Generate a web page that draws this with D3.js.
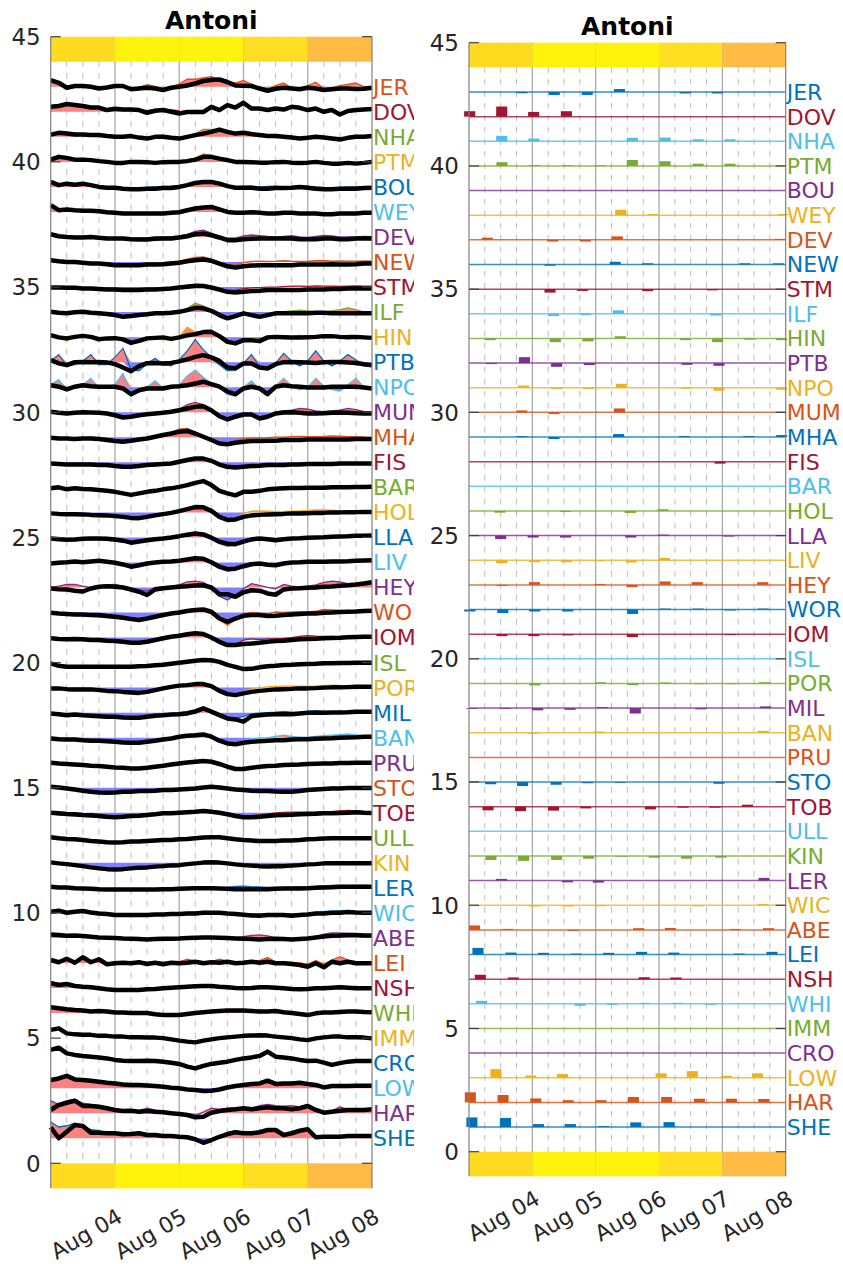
<!DOCTYPE html>
<html><head><meta charset="utf-8">
<script src="https://cdn.jsdelivr.net/npm/d3@7"></script>
<style>body{margin:0;background:#fff;} svg{font-family:"DejaVu Sans",sans-serif;display:block;}</style>
</head><body><svg id="c" width="843" height="1264"></svg>
<script>
// ---------------- DATA ----------------
const stations = ["JER","DOV","NHA","PTM","BOU","WEY","DEV","NEW","STM","ILF","HIN","PTB","NPO","MUM","MHA","FIS","BAR","HOL","LLA","LIV","HEY","WOR","IOM","ISL","POR","MIL","BAN","PRU","STO","TOB","ULL","KIN","LER","WIC","ABE","LEI","NSH","WHI","IMM","CRO","LOW","HAR","SHE"];
const stationLevels = [43,42,41,40,39,38,37,36,35,34,33,32,31,30,29,28,27,26,25,24,23,22,21,20,19,18,17,16,15,14,13,12,11,10,9,8,7,6,5,4,3,2,1];
const sampleHours = d3.range(0, 121, 3); // 3-hourly sampling, Aug 03 00:00 .. Aug 08 00:00
const dayTickLabels = ["Aug 04","Aug 05","Aug 06","Aug 07","Aug 08"];
const yTickValues = [0,5,10,15,20,25,30,35,40,45];
const eventName = "Antoni";
const dayBandColors = ["#FFDA1E","#FFF30B","#FFF30B","#FFDE23","#FFBB44"];

// model (black) surge residual per station, offset from station level
const modelLines = [
/*JER*/[0.27,0.16,-0.04,0.03,0.03,0,-0.07,-0.03,0.03,0.03,-0.1,-0.07,-0.04,-0.07,-0.13,-0.04,0,0.05,0.13,0.23,0.27,0.29,0.19,0.05,0.04,0.03,-0.07,-0.16,-0.08,-0.04,-0.07,-0.1,-0.04,-0.07,-0.13,-0.1,-0.07,-0.07,-0.09,-0.08,-0.04],
/*DOV*/[0.2,0.23,0.31,0.27,0.23,0.17,0.17,0.07,0.12,0.09,0.09,0.07,-0.04,0.04,0.07,0,-0.07,-0.01,-0.01,-0.01,0.2,0.07,0.27,0.17,0.36,0.13,0.13,0.07,0.13,0.09,0.2,0.16,0.07,0.13,0,0.07,-0.11,0.03,0.07,0.09,0.11],
/*NHA*/[0.09,0.16,0.13,0.09,0.09,0.07,0.07,0.03,0,0,0.03,-0.03,-0.07,0,0,-0.04,-0.07,0,0.07,0.13,0.2,0.29,0.2,0.13,0.16,0.11,0.07,0.03,0.03,0,-0.03,-0.07,-0.04,0,-0.03,-0.07,-0.11,-0.04,0,0,0.03],
/*PTM*/[0.09,0.2,0.16,0.09,0.09,0.07,0.03,0,-0.04,-0.04,0,0,-0.01,-0.04,-0.01,0,0,0.03,0.09,0.2,0.2,0.13,0.07,0,0,-0.01,-0.03,-0.03,-0.01,0,-0.03,-0.04,-0.03,0,-0.04,-0.07,-0.07,-0.04,-0.07,-0.04,0],
/*BOU*/[0.2,0.07,0.13,0.09,0.13,0.07,0,-0.03,-0.03,-0.07,-0.09,-0.09,-0.07,-0.07,-0.04,-0.04,0,0.07,0.16,0.2,0.2,0.13,0.03,-0.03,-0.03,-0.03,-0.07,-0.07,-0.04,-0.04,-0.03,0,-0.03,-0.07,-0.09,-0.09,-0.07,-0.07,-0.07,-0.04,-0.03],
/*WEY*/[0.27,0.07,0.1,0.07,0.05,0.05,0.03,-0.01,-0.03,-0.06,-0.06,-0.06,-0.06,-0.06,-0.06,-0.03,-0.01,0.07,0.14,0.18,0.2,0.1,0,-0.03,-0.03,-0.01,-0.03,-0.06,-0.06,-0.03,-0.03,-0.06,-0.06,-0.06,-0.09,-0.09,-0.06,-0.06,-0.06,-0.03,-0.03],
/*DEV*/[0.11,0.03,0,-0.02,-0.02,0,-0.03,-0.06,-0.06,-0.06,-0.09,-0.1,-0.1,-0.07,-0.06,-0.06,-0.02,0.03,0.11,0.14,0.07,-0.02,-0.13,-0.13,-0.09,-0.07,-0.06,-0.06,-0.06,-0.06,-0.06,-0.09,-0.09,-0.09,-0.06,-0.06,-0.09,-0.09,-0.06,-0.06,-0.06],
/*NEW*/[0.07,0.03,0,0,-0.03,-0.06,-0.06,-0.09,-0.13,-0.13,-0.13,-0.13,-0.1,-0.1,-0.09,-0.06,-0.03,0.03,0.07,0.1,0.05,-0.06,-0.17,-0.22,-0.17,-0.14,-0.13,-0.13,-0.13,-0.13,-0.13,-0.1,-0.1,-0.1,-0.1,-0.09,-0.1,-0.1,-0.09,-0.06,-0.06],
/*STM*/[-0.02,-0.02,-0.03,-0.03,-0.06,-0.06,-0.08,-0.1,-0.1,-0.12,-0.12,-0.12,-0.1,-0.1,-0.08,-0.06,-0.02,0.01,0.04,0.04,-0.02,-0.1,-0.19,-0.22,-0.19,-0.16,-0.15,-0.12,-0.12,-0.12,-0.12,-0.12,-0.1,-0.1,-0.1,-0.08,-0.08,-0.06,-0.06,-0.06,-0.06],
/*ILF*/[0.01,-0.03,-0.05,-0.01,0.01,-0.03,-0.05,-0.08,-0.12,-0.19,-0.16,-0.12,-0.09,-0.05,-0.05,-0.03,0.01,0.08,0.17,0.15,0.05,-0.12,-0.25,-0.16,-0.05,-0.12,-0.19,-0.12,-0.05,-0.05,-0.05,-0.05,-0.05,-0.03,-0.03,-0.05,-0.05,-0.05,-0.05,-0.05,-0.05],
/*HIN*/[0.08,-0.01,-0.05,0.01,0.05,0.01,-0.08,-0.05,-0.04,-0.09,-0.23,-0.15,-0.05,-0.03,-0.01,-0.07,-0.01,0.07,0.12,0.2,0.21,0.04,-0.19,-0.25,-0.12,-0.12,-0.16,-0.01,0.01,0,-0.01,-0.01,0,0.01,0.04,0.04,0.01,0,0.01,-0.01,-0.03],
/*PTB*/[0.08,-0.05,-0.12,0,0.01,0,0.01,-0.01,-0.08,-0.21,-0.36,-0.16,-0.04,-0.03,-0.05,-0.03,0.03,0.11,0.21,0.28,0.19,0.05,-0.21,-0.25,-0.05,-0.05,-0.21,-0.25,-0.08,0,0.01,0,-0.01,-0.03,0,0.01,0.01,-0.01,-0.03,-0.08,-0.12],
/*NPO*/[0.08,0.02,-0.09,0.02,0.08,0.04,0.02,0.02,0.02,-0.05,-0.28,-0.12,-0.05,-0.05,-0.05,0.02,0.04,0.08,0.15,0.22,0.12,0.02,-0.18,-0.28,-0.05,0.02,-0.05,-0.28,0.02,0.08,0.04,0.02,-0.01,-0.01,-0.01,0.02,0.02,0.02,0.02,-0.01,-0.05],
/*MUM*/[0.02,-0.02,-0.05,-0.02,0,-0.01,-0.02,-0.05,-0.12,-0.21,-0.18,-0.12,-0.08,-0.05,-0.02,0.02,0.08,0.15,0.22,0.24,0.08,-0.16,-0.29,-0.18,-0.09,-0.09,-0.25,-0.18,-0.05,-0.01,0,-0.02,-0.05,-0.05,-0.04,-0.02,-0.01,-0.02,-0.04,-0.05,-0.05],
/*MHA*/[-0.02,-0.05,-0.05,-0.07,-0.05,-0.05,-0.07,-0.11,-0.15,-0.18,-0.14,-0.09,-0.05,0.02,0.09,0.15,0.22,0.25,0.15,0.02,-0.11,-0.25,-0.28,-0.22,-0.18,-0.15,-0.15,-0.14,-0.14,-0.11,-0.11,-0.11,-0.09,-0.09,-0.09,-0.09,-0.09,-0.09,-0.07,-0.07,-0.07],
/*FIS*/[-0.05,-0.07,-0.09,-0.09,-0.09,-0.09,-0.11,-0.11,-0.15,-0.18,-0.18,-0.15,-0.11,-0.09,-0.07,-0.05,0.02,0.09,0.15,0.15,0.06,-0.09,-0.18,-0.21,-0.18,-0.15,-0.14,-0.11,-0.11,-0.11,-0.09,-0.09,-0.07,-0.07,-0.07,-0.07,-0.05,-0.05,-0.05,-0.05,-0.05],
/*BAR*/[-0.04,0,-0.08,-0.04,-0.07,-0.08,-0.11,-0.14,-0.18,-0.24,-0.3,-0.24,-0.18,-0.14,-0.08,-0.04,0.02,0.09,0.18,0.25,0.09,-0.14,-0.24,-0.32,-0.18,-0.18,-0.14,-0.08,-0.06,-0.04,-0.03,-0.03,-0.02,-0.02,-0.02,0,0,0,0.01,0.01,0.02],
/*HOL*/[-0.04,-0.06,-0.07,-0.07,-0.08,-0.1,-0.11,-0.12,-0.15,-0.18,-0.22,-0.23,-0.18,-0.12,-0.07,-0.02,0.05,0.13,0.21,0.2,0.06,-0.18,-0.3,-0.28,-0.18,-0.12,-0.1,-0.08,-0.07,-0.06,-0.04,-0.04,-0.03,-0.02,-0.02,0,0,0.01,0.01,0.02,0.02],
/*LLA*/[-0.04,-0.07,-0.09,-0.08,-0.05,-0.04,-0.04,-0.05,-0.08,-0.13,-0.21,-0.16,-0.11,-0.07,-0.04,0,0.05,0.11,0.16,0.12,-0.01,-0.17,-0.25,-0.27,-0.17,-0.08,-0.04,-0.07,-0.11,-0.07,-0.04,-0.03,-0.01,0,0.01,0.03,0.04,0.05,0.07,0.07,0.08],
/*LIV*/[-0.04,-0.01,0.01,0.04,0.01,0.04,0.07,0.03,-0.01,-0.08,-0.17,-0.11,-0.04,0,0.03,0.04,0.07,0.12,0.17,0.15,0.01,-0.17,-0.27,-0.25,-0.15,-0.07,-0.04,-0.09,-0.11,-0.04,0,0.01,0.03,0.03,0.03,0.04,0.04,0.05,0.07,0.08,0.09],
/*HEY*/[-0.04,-0.07,-0.08,-0.13,-0.16,-0.04,0.03,0.05,0.03,0,-0.08,-0.17,-0.3,-0.08,-0.03,0,0.03,0.05,0.08,0.09,0,-0.27,-0.27,-0.37,-0.19,-0.11,-0.13,-0.24,-0.29,-0.08,-0.04,-0.03,-0.01,0,0.03,0.04,0.07,0.09,0.12,0.16,0.21],
/*WOR*/[-0.01,-0.04,-0.06,-0.08,-0.08,-0.1,-0.1,-0.14,-0.17,-0.21,-0.26,-0.3,-0.24,-0.17,-0.1,-0.04,0,0.06,0.1,0.12,0.03,-0.24,-0.37,-0.24,-0.13,-0.1,-0.1,-0.14,-0.13,-0.1,-0.08,-0.06,-0.04,-0.04,-0.01,0,0.02,0.03,0.04,0.06,0.07],
/*IOM*/[-0.03,-0.06,-0.07,-0.06,-0.07,-0.1,-0.1,-0.13,-0.14,-0.17,-0.21,-0.21,-0.17,-0.1,-0.03,0.03,0.07,0.13,0.17,0.14,0,-0.17,-0.3,-0.3,-0.26,-0.24,-0.21,-0.17,-0.14,-0.13,-0.1,-0.07,-0.06,-0.05,-0.03,-0.02,-0.01,0.01,0.02,0.03,0.03],
/*ISL*/[-0.03,-0.13,-0.17,-0.17,-0.17,-0.17,-0.17,-0.17,-0.17,-0.17,-0.17,-0.15,-0.14,-0.11,-0.09,-0.05,-0.01,0.03,0.07,0.1,0.09,0.03,-0.09,-0.17,-0.26,-0.25,-0.19,-0.15,-0.13,-0.1,-0.09,-0.07,-0.06,-0.05,-0.03,-0.03,-0.02,-0.02,-0.01,-0.01,-0.01],
/*POR*/[-0.03,-0.03,-0.06,-0.07,-0.07,-0.07,-0.1,-0.13,-0.14,-0.17,-0.19,-0.21,-0.17,-0.1,-0.03,0.03,0.08,0.1,0.14,0.14,0.06,-0.13,-0.26,-0.3,-0.23,-0.17,-0.13,-0.1,-0.07,-0.06,-0.05,-0.03,-0.03,-0.02,0,0.01,0.01,0.02,0.03,0.03,0.03],
/*MIL*/[-0.03,-0.06,-0.1,-0.07,-0.1,-0.12,-0.14,-0.16,-0.16,-0.19,-0.2,-0.2,-0.16,-0.12,-0.1,-0.07,-0.06,-0.03,0.04,0.17,0.04,-0.1,-0.23,-0.27,-0.36,-0.14,-0.1,-0.07,-0.06,-0.06,-0.06,-0.03,0,0,0,0.01,0.01,0.02,0.04,0.04,0.04],
/*BAN*/[-0.03,-0.06,-0.07,-0.07,-0.1,-0.12,-0.12,-0.14,-0.16,-0.19,-0.2,-0.2,-0.16,-0.12,-0.07,-0.03,0.04,0.08,0.1,0.13,0.04,-0.12,-0.23,-0.26,-0.2,-0.16,-0.14,-0.12,-0.1,-0.1,-0.07,-0.06,-0.06,-0.04,-0.03,-0.02,0,0.01,0.02,0.04,0.04],
/*PRU*/[0,-0.03,-0.05,-0.07,-0.09,-0.12,-0.13,-0.16,-0.19,-0.2,-0.23,-0.23,-0.2,-0.16,-0.12,-0.07,-0.03,0.01,0.04,0.07,0.04,-0.05,-0.16,-0.25,-0.25,-0.2,-0.16,-0.13,-0.12,-0.09,-0.08,-0.07,-0.05,-0.04,-0.03,-0.03,-0.01,-0.01,0,0,0],
/*STO*/[0.04,0.01,-0.03,-0.07,-0.12,-0.16,-0.19,-0.2,-0.19,-0.16,-0.16,-0.13,-0.13,-0.12,-0.09,-0.09,-0.07,-0.05,-0.03,0.01,0.04,0.01,-0.03,-0.07,-0.09,-0.12,-0.13,-0.13,-0.15,-0.16,-0.16,-0.13,-0.09,-0.07,-0.05,-0.03,-0.03,-0.01,-0.01,-0.01,-0.01],
/*TOB*/[0,-0.02,-0.05,-0.06,-0.09,-0.1,-0.13,-0.16,-0.18,-0.16,-0.13,-0.12,-0.09,-0.06,-0.02,-0.02,0,0.02,0.04,0.07,0.04,0,-0.06,-0.13,-0.18,-0.18,-0.16,-0.13,-0.1,-0.09,-0.08,-0.06,-0.05,-0.04,-0.02,-0.02,-0.01,0,0.02,0,-0.01],
/*ULL*/[0.02,-0.02,-0.05,-0.06,-0.09,-0.13,-0.15,-0.18,-0.19,-0.18,-0.15,-0.15,-0.13,-0.11,-0.09,-0.09,-0.06,-0.05,-0.02,0.01,0.02,0.02,-0.02,-0.06,-0.09,-0.11,-0.13,-0.13,-0.13,-0.11,-0.11,-0.09,-0.06,-0.05,-0.03,-0.02,-0.02,-0.02,-0.02,-0.02,-0.02],
/*KIN*/[0.02,-0.02,-0.05,-0.09,-0.13,-0.18,-0.22,-0.25,-0.26,-0.25,-0.22,-0.19,-0.18,-0.15,-0.13,-0.1,-0.09,-0.05,-0.02,0.01,0.02,0.01,-0.02,-0.06,-0.09,-0.11,-0.13,-0.14,-0.13,-0.13,-0.11,-0.09,-0.06,-0.05,-0.02,-0.02,-0.02,-0.02,-0.02,-0.02,-0.02],
/*LER*/[0.05,0.02,0.02,-0.01,-0.02,-0.03,-0.05,-0.06,-0.06,-0.06,-0.06,-0.06,-0.06,-0.06,-0.05,-0.05,-0.03,-0.02,-0.01,-0.01,-0.01,-0.02,-0.03,-0.05,-0.05,-0.05,-0.05,-0.05,-0.03,-0.02,-0.02,-0.02,-0.01,0.01,0.02,0.03,0.05,0.05,0.05,0.05,0.05],
/*WIC*/[0.05,0.09,0.01,0.05,0.08,0.02,-0.02,-0.04,-0.08,-0.08,-0.08,-0.08,-0.08,-0.06,-0.06,-0.04,-0.04,-0.02,-0.02,0.01,0.01,0.01,-0.02,-0.04,-0.07,-0.1,-0.11,-0.08,-0.08,-0.08,-0.11,-0.08,-0.06,-0.02,-0.02,0.01,0.01,0.04,0.02,0.01,0.01],
/*ABE*/[0.14,0.12,0.09,0.1,0.08,0.05,0.02,0.01,0,-0.02,-0.03,-0.04,-0.06,-0.04,-0.03,-0.03,-0.02,0,0.01,0.02,0.02,0.01,0,-0.02,-0.03,-0.04,-0.06,-0.04,-0.03,-0.04,-0.06,-0.04,-0.02,0.02,0.06,0.09,0.1,0.12,0.12,0.1,0.1],
/*LEI*/[0.12,0.03,0.17,0.01,0.23,0.03,0.15,-0.05,-0.01,0.01,-0.01,0.03,-0.04,0.01,-0.05,0.01,-0.01,0.01,0.05,-0.01,0.03,0.01,0.05,-0.01,0.01,0.05,0.01,0.05,-0.01,-0.01,-0.04,-0.08,-0.15,-0.01,-0.17,0.05,-0.01,0.05,-0.01,-0.01,-0.01],
/*NSH*/[0.19,0.12,0.16,0.08,0.05,0.03,-0.01,-0.05,-0.08,-0.08,-0.08,-0.08,-0.05,-0.04,-0.01,0.01,0.03,0.05,0.07,0.08,0.08,0.05,0.03,0,-0.01,0,0.03,0.03,0.01,-0.01,-0.04,-0.05,-0.04,-0.01,-0.01,0.01,0.03,0.01,-0.01,-0.01,-0.01],
/*WHI*/[0.23,0.19,0.15,0.12,0.1,0.06,0.08,0.06,0.02,0.02,0,0,0,-0.05,-0.08,-0.08,-0.08,-0.04,0,0.03,0.06,0.08,0.1,0.1,0.1,0.08,0.06,0.06,0.08,0.03,0,-0.04,-0.08,-0.01,0.02,0.02,0.04,0.06,0.06,0.04,0.03],
/*IMM*/[0.33,0.39,0.19,0.15,0.13,0.13,0.09,0.09,0.06,0.06,0.03,0.03,0.02,0.02,0,-0.05,-0.1,-0.14,-0.17,-0.1,-0.05,0,0.03,0.06,0.09,0.1,0.11,0.1,0.06,0.03,0,-0.05,-0.08,-0.01,0.03,0.06,0.06,0.03,0.03,0.02,-0.01],
/*CRO*/[0.53,0.62,0.39,0.33,0.29,0.26,0.23,0.19,0.13,0.1,0.09,0.09,0.1,0.09,0.06,0.02,-0.03,-0.14,-0.21,-0.11,-0.03,0.02,0.06,0.13,0.19,0.23,0.29,0.46,0.26,0.23,0.19,0.13,0.09,0.1,0.02,-0.07,0,0.06,0.09,0.09,0.09],
/*LOW*/[0.33,0.39,0.49,0.35,0.33,0.3,0.26,0.22,0.19,0.15,0.13,0.13,0.11,0.09,0.06,0.02,0,-0.05,-0.07,-0.11,-0.1,-0.05,0.03,0.09,0.13,0.17,0.19,0.3,0.17,0.19,0.19,0.22,0.17,0.13,0.03,0.09,0.09,0.09,0.1,0.1,0.1],
/*HAR*/[0.13,0.33,0.42,0.5,0.29,0.29,0.26,0.2,0.13,0.09,0.1,0.06,0.09,0.06,0.04,0,-0.03,-0.07,-0.16,-0.14,0.02,0.09,0.13,0.16,0.2,0.16,0.2,0.24,0.2,0.2,0.16,0.2,0.29,0.13,0.02,0.06,0.1,0.13,0.13,0.13,0.16],
/*SHE*/[0.44,0,0.26,0.53,0.49,0.22,0.22,0.2,0.2,0.16,0.17,0.2,0.13,0.13,0.09,0.09,0.06,0.04,-0.04,-0.18,-0.07,0.06,0.17,0.24,0.2,0.2,0.24,0.33,0.33,0.13,0.2,0.3,0.36,0.04,0.06,0.06,0.06,0.09,0.09,0.09,0.09]
];

// observed residual per station (null = no data)
const N = null;
const obsLines = [
/*JER*/[0.25,0.15,0,0.02,0.05,0.02,-0.05,0,0.08,0.05,-0.08,-0.02,0.08,0.02,-0.1,0,0.12,0.3,0.3,0.35,0.4,0.3,0.2,0.15,0.25,0.1,-0.05,-0.12,0.05,0.15,-0.05,-0.08,0.05,0.18,-0.1,-0.05,0.05,0.1,0.15,0,-0.03],
/*DOV*/[0.25,0.25,0.35,0.3,0.25,0.2,0.15,0.1,0.15,0.08,0.12,0.1,0.05,0.1,0.1,0.08,0.05,N,N,N,N,N,N,N,N,N,N,N,N,N,N,N,N,N,N,N,N,N,N,N,N],
/*NHA*/[0.12,0.18,0.15,0.1,0.1,0.09,0.08,0.05,0.02,0.02,0.04,0,-0.05,0.02,0.02,-0.02,-0.05,0.03,0.12,0.3,0.3,0.3,0.22,0.15,0.2,0.14,0.1,0.08,0.05,0.02,0,-0.05,-0.02,0.02,0,-0.05,-0.08,-0.02,0.02,0.02,0.04],
/*PTM*/[0.1,0.18,0.15,0.1,0.1,0.08,0.05,0.03,0,0.02,0.03,0.02,0.02,0,0.03,0.03,0.05,0.08,0.15,0.33,0.25,0.15,0.08,0.03,0.04,0.02,0,0,0.02,0.03,0,-0.02,0,0.02,-0.02,-0.04,-0.04,-0.02,-0.03,-0.02,0.02],
/*BOU*/[0.18,0.08,0.12,0.1,0.12,0.08,0.02,0,0,-0.03,-0.05,-0.05,-0.02,0,0.02,0.03,0.06,0.1,0.18,0.22,0.2,0.15,0.05,0,0.02,0.03,0,0.02,0.03,0,0,0.04,0.02,0,-0.02,-0.03,-0.02,0,0,0,0],
/*WEY*/[0.25,0.08,0.1,0.08,0.06,0.06,0.05,0.02,0,-0.03,-0.04,-0.04,-0.03,-0.02,-0.02,0,0.02,0.08,0.16,0.22,0.22,0.12,0.02,0,0,0.02,0,-0.03,-0.03,0,0,-0.03,-0.03,-0.04,-0.06,-0.06,-0.04,-0.04,-0.04,-0.02,-0.02],
/*DEV*/[0.14,0.06,0.03,0.02,0.02,0.03,0,-0.03,-0.03,-0.03,-0.05,-0.06,-0.04,0,0,0,0.04,0.1,0.22,0.27,0.15,0.02,-0.08,-0.06,0.04,0.08,0.05,0.02,0,0.02,0.05,0,-0.02,0.02,0.06,0.04,0,0,0,0.02,0.01],
/*NEW*/[0.08,0.05,0.02,0.02,0,-0.03,-0.04,-0.06,-0.08,-0.08,-0.08,-0.08,-0.06,-0.04,-0.03,0,0.03,0.12,0.18,0.2,0.12,0,-0.1,-0.12,-0.02,0.02,0.03,0.02,0.03,0.05,0.03,0.02,0.03,0.05,0.06,0.03,0.04,0.03,0.03,0.04,0.03],
/*STM*/[-0.02,-0.03,-0.04,-0.05,-0.07,-0.08,-0.1,-0.1,-0.1,-0.12,-0.1,-0.1,-0.08,-0.06,-0.05,-0.02,0.03,0.08,0.12,0.1,0.03,-0.08,-0.15,-0.12,-0.06,-0.03,-0.02,0,0,0.02,0.04,0.04,0.03,0.05,0.04,0.04,0.03,0.04,0.05,0.04,0.04],
/*ILF*/[0.02,-0.02,-0.04,0,0.02,-0.02,-0.05,-0.08,-0.1,-0.15,-0.12,-0.1,-0.07,-0.03,-0.03,0,0.04,0.15,0.35,0.25,0.08,-0.1,-0.2,-0.12,0,-0.08,-0.12,-0.05,0,0.02,0.05,0.08,0.05,0,0,0.05,0.1,0.17,0.1,0,-0.03],
/*HIN*/[0.1,-0.05,-0.15,0.05,0.08,-0.05,-0.18,-0.05,0.02,-0.15,-0.25,-0.1,0,-0.05,-0.1,-0.12,0.02,0.4,0.2,0.22,0.25,0.05,-0.2,-0.22,-0.05,-0.02,-0.12,0.03,0.05,-0.05,0.02,0.08,-0.03,0.03,0.1,0.05,-0.02,0.08,0.06,0,-0.02],
/*PTB*/[0.05,0.3,-0.15,-0.1,0.05,0.3,-0.1,-0.1,0.2,0.55,-0.3,-0.35,-0.05,0.15,-0.1,-0.15,0.1,0.45,0.9,0.5,0.2,-0.1,-0.35,-0.3,-0.05,0.3,-0.2,-0.3,-0.05,0.35,0.05,-0.15,0.05,0.45,0.05,-0.15,0.05,0.3,0.1,-0.15,-0.1],
/*NPO*/[0.1,0.3,-0.15,0.05,0.1,0.35,-0.05,0,0.1,0.55,-0.35,-0.15,0,0.25,-0.05,0,0.1,0.45,0.68,0.4,0.15,0,-0.3,-0.35,0,0.25,-0.1,-0.35,0.05,0.35,0.05,-0.1,0,0.35,0.05,-0.1,-0.15,0.1,0.35,0,-0.05],
/*MUM*/[0.03,0,-0.02,0,0.02,0.02,0,-0.03,-0.12,-0.2,-0.2,-0.12,-0.06,-0.02,0,0.04,0.12,0.3,0.39,0.3,0.1,-0.1,-0.25,-0.18,-0.06,-0.05,-0.2,-0.12,0,0.05,0.08,0.15,0.12,0.05,0.02,0.05,0.08,0.15,0.1,0.02,0],
/*MHA*/[0,-0.02,-0.03,-0.04,-0.02,0,-0.02,-0.05,-0.1,-0.12,-0.1,-0.06,-0.02,0.05,0.12,0.2,0.32,0.35,0.2,0.05,-0.1,-0.2,-0.22,-0.12,-0.05,-0.03,-0.03,-0.02,0,0,0.02,0.03,0.02,0.02,0.03,0.05,0.04,0.02,0.02,0,-0.02],
/*FIS*/[-0.05,-0.06,-0.08,-0.08,-0.08,-0.08,-0.1,-0.1,-0.13,-0.2,-0.15,-0.2,-0.1,-0.15,-0.07,-0.04,0.03,0.12,0.19,0.15,0.05,-0.12,-0.25,-0.18,-0.15,-0.12,-0.1,-0.1,-0.08,-0.08,-0.06,-0.06,-0.05,-0.04,-0.03,-0.04,-0.03,-0.03,-0.04,-0.04,-0.04],
/*BAR*/null,
/*HOL*/[-0.02,-0.08,-0.1,-0.1,-0.1,-0.1,-0.1,-0.1,-0.12,-0.15,-0.2,-0.22,-0.15,-0.1,-0.05,0,0.08,0.18,0.28,0.22,0.05,-0.2,-0.3,-0.25,-0.05,0.05,0.06,0.05,0.04,0.03,0.05,0.06,0.08,0.1,0.1,0.09,0.07,0.05,0.04,0.04,0.04],
/*LLA*/[-0.03,-0.08,-0.1,-0.08,-0.08,-0.1,-0.1,-0.12,-0.15,-0.18,-0.22,-0.18,-0.12,-0.08,-0.05,0,0.05,0.12,0.2,0.12,-0.05,-0.25,-0.35,-0.3,-0.18,-0.1,-0.06,-0.05,-0.08,-0.05,-0.03,-0.01,0.01,0.02,0.03,0.05,0.05,0.06,0.08,0.08,0.08],
/*LIV*/[-0.02,0.01,0.02,0.05,0.03,0.05,0.08,0.05,0,-0.06,-0.15,-0.08,-0.02,0.02,0.04,0.05,0.08,0.15,0.22,0.15,-0.02,-0.25,-0.35,-0.28,-0.12,-0.05,-0.02,-0.05,-0.08,-0.02,0.02,0.04,0.08,0.05,0.05,0.08,0.06,0.06,0.08,0.1,0.1],
/*HEY*/[0,0.05,0.12,0.12,0.05,0,0.05,0.1,0.12,0.05,-0.05,-0.1,-0.15,0,0.02,0.05,0.1,0.22,0.25,0.2,0,-0.35,-0.5,-0.3,-0.05,0.15,0.08,0,-0.05,0.12,0.05,0.02,0.05,0.1,0.2,0.25,0.22,0.15,0.15,0.18,0.22],
/*WOR*/[-0.02,-0.05,-0.1,-0.12,-0.12,-0.15,-0.18,-0.2,-0.22,-0.24,-0.26,-0.28,-0.2,-0.12,-0.06,0,0.05,0.1,0.15,0.1,-0.05,-0.3,-0.5,-0.3,-0.05,0,-0.03,-0.05,0.02,0,0.02,0.03,0.02,0.05,0.12,0.1,0.08,0.06,0.06,0.06,0.07],
/*IOM*/[-0.02,-0.04,-0.06,-0.08,-0.1,-0.12,-0.15,-0.17,-0.18,-0.2,-0.2,-0.18,-0.12,-0.06,0,0.05,0.1,0.15,0.18,0.12,-0.02,-0.2,-0.3,-0.28,-0.1,-0.05,-0.08,-0.05,-0.05,-0.03,0,0.05,0.08,0.06,0.05,0.05,0.03,0.03,0.04,0.04,0.04],
/*ISL*/null,
/*POR*/[-0.02,-0.03,-0.05,-0.06,-0.08,-0.1,-0.12,-0.14,-0.16,-0.18,-0.2,-0.2,-0.15,-0.08,0,0.05,0.1,0.14,0.18,0.15,0.03,-0.18,-0.3,-0.3,-0.15,-0.05,0,0.03,0.05,0.06,0.06,0.06,0.06,0.06,0.08,0.1,0.08,0.06,0.05,0.05,0.05],
/*MIL*/[-0.02,-0.06,-0.1,-0.1,-0.12,-0.15,-0.18,-0.2,-0.2,-0.2,-0.2,-0.18,-0.12,-0.08,-0.05,-0.03,0,0.05,0.12,0.22,0.05,-0.15,-0.2,-0.22,-0.15,-0.05,-0.02,0,0.02,0.05,0.02,0,0.05,0.08,0.05,0.04,0.03,0.03,0.05,0.05,0.05],
/*BAN*/[0.02,0,-0.02,-0.04,-0.06,-0.08,-0.1,-0.12,-0.14,-0.16,-0.18,-0.16,-0.12,-0.08,-0.04,0,0.05,0.1,0.14,0.16,0.05,-0.15,-0.25,-0.22,-0.12,-0.05,-0.02,0,0.05,0.1,0.05,0.02,0.02,0.05,0.08,0.1,0.12,0.15,0.1,0.06,0.05],
/*PRU*/null,
/*STO*/[0.02,0,-0.04,-0.08,-0.13,-0.17,-0.2,-0.2,-0.2,-0.18,-0.17,-0.15,-0.13,-0.1,-0.08,-0.06,-0.04,-0.02,0,0.02,0.02,0,-0.04,-0.08,-0.1,-0.13,-0.14,-0.15,-0.16,-0.16,-0.15,-0.12,-0.06,-0.02,0,0.02,0.02,0.02,0.02,0.01,0.01],
/*TOB*/[-0.05,-0.08,-0.1,-0.12,-0.14,-0.16,-0.18,-0.2,-0.2,-0.18,-0.15,-0.1,-0.05,0,0.02,0.02,0.03,0.05,0.08,0.1,0.08,0.02,-0.04,-0.1,-0.15,-0.12,-0.08,-0.04,0,0.02,0.03,0.03,0.03,0.03,0.04,0.05,0.08,0.1,0.08,0.05,0.03],
/*ULL*/null,
/*KIN*/[0,-0.04,-0.08,-0.12,-0.16,-0.2,-0.24,-0.26,-0.27,-0.26,-0.23,-0.2,-0.18,-0.15,-0.12,-0.1,-0.08,-0.05,-0.02,0,0,0,-0.04,-0.08,-0.12,-0.14,-0.15,-0.16,-0.15,-0.14,-0.12,-0.09,-0.06,-0.04,-0.02,-0.01,-0.01,-0.01,0,0,0],
/*LER*/[0.06,0.03,0.02,0,-0.01,-0.02,-0.03,-0.04,-0.04,-0.04,-0.04,-0.04,-0.04,-0.04,-0.03,-0.02,-0.01,0,0,0,0,0,0.02,0.06,0.07,0.05,0.04,0.02,0.02,0.02,0.03,0.04,0.05,0.06,0.08,0.1,0.1,0.09,0.1,0.1,0.08],
/*WIC*/[0.05,0.08,0.02,0.04,0.06,0.02,-0.03,-0.06,-0.1,-0.08,-0.07,-0.06,-0.05,-0.04,-0.04,-0.02,0,0.02,0.04,0.06,0.05,0.03,0,-0.03,-0.06,-0.1,-0.12,-0.12,-0.1,-0.1,-0.12,-0.06,-0.02,0.03,0.06,0.08,0.1,0.08,0.05,0.03,0.02],
/*ABE*/[0.15,0.12,0.1,0.1,0.08,0.06,0.03,0.02,0.01,0,-0.02,-0.03,-0.04,-0.03,-0.02,-0.02,-0.01,0.01,0.02,0.03,0.03,0.02,0.02,0.03,0.05,0.1,0.12,0.08,0,-0.04,-0.06,-0.05,-0.02,0.05,0.15,0.2,0.2,0.18,0.15,0.1,0.1],
/*LEI*/[0.15,0.05,0.18,0.03,0.22,0.05,0.15,0,0.02,0.03,0.02,0.05,0.02,0.05,0.02,0.05,0.05,0.15,0.08,0.05,0.06,0.15,0.08,0.05,0.06,0.08,0.1,0.22,0.05,0.04,0.02,0,-0.05,0.1,-0.05,0.12,0.25,0.12,0.05,0.04,0.02],
/*NSH*/[0.25,0.2,0.18,0.1,0.06,0.04,0,-0.03,-0.06,-0.07,-0.07,-0.06,-0.04,-0.03,0,0.02,0.04,0.06,0.08,0.09,0.09,0.06,0.04,0.02,0.01,0.02,0.04,0.04,0.03,0.01,-0.02,-0.06,-0.03,0,0.02,0.05,0.08,0.06,0.02,0,0],
/*WHI*/[0.25,0.2,0.15,0.12,0.1,0.08,0.08,0.06,0.03,0.02,0,0,0.02,-0.03,-0.05,-0.05,-0.04,0,0.03,0.06,0.08,0.1,0.12,0.12,0.12,0.1,0.12,0.1,0.08,0.05,0.02,-0.02,-0.06,0,0.03,0.03,0.05,0.06,0.06,0.05,0.04],
/*IMM*/null,
/*CRO*/null,
/*LOW*/[0.35,0.42,0.45,0.38,0.35,0.32,0.28,0.24,0.2,0.17,0.14,0.13,0.12,0.1,0.07,0.03,0,-0.04,-0.08,-0.12,-0.1,-0.04,0.04,0.1,0.14,0.18,0.2,0.28,0.2,0.2,0.2,0.22,0.18,0.12,0.05,0.1,0.1,0.1,0.11,0.1,0.1],
/*HAR*/[0.5,0.35,0.5,0.55,0.4,0.35,0.3,0.22,0.15,0.12,0.12,0.1,0.2,0.12,0.08,0.04,0,-0.02,-0.1,0.05,0.2,0.15,0.2,0.2,0.22,0.2,0.3,0.35,0.3,0.28,0.3,0.25,0.35,0.15,0.05,0.1,0.25,0.15,0.13,0.12,0.14],
/*SHE*/[0.65,0.45,0.5,0.6,0.5,0.35,0.3,0.22,0.2,0.18,0.18,0.2,0.15,0.12,0.1,0.08,0.05,0.02,-0.05,-0.1,-0.05,0.1,0.2,0.3,0.22,0.2,0.25,0.3,0.35,0.15,0.2,0.28,0.3,0.05,0.06,0.07,0.07,0.08,0.08,0.08,0.08]
];

// high-water errors: [hours after Aug 03 00:00, error]
const highWaterErrors = [
/*JER*/[[20.1,-0.05],[32.3,-0.12],[44.8,-0.12],[57,0.12],[81.9,-0.06],[94.1,-0.06]],
/*DOV*/[[0.25,0.22],[12.4,0.41],[24.5,0.19],[36.9,0.22]],
/*NHA*/[[12.4,0.22],[24.6,0.11],[61.9,0.14],[74.3,0.15],[86.8,0.08],[98.8,0.08]],
/*PTM*/[[12.5,0.15],[24.8,0.04],[37.3,0.03],[49.6,0.03],[61.9,0.24],[74.3,0.19],[86.8,0.09],[98.9,0.09]],
/*BOU*/[],
/*WEY*/[[57.5,0.22],[69.9,0.05],[119,0.05]],
/*DEV*/[[6.9,0.09],[31.7,-0.07],[44.1,-0.07],[56.2,0.14],[117.8,0.04]],
/*NEW*/[[30.7,-0.05],[55.4,0.11],[67.7,0.05],[104.6,0.05],[117.2,0.05]],
/*STM*/[[30.7,-0.14],[43,-0.07],[67.7,-0.08],[92.2,-0.05]],
/*ILF*/[[32,-0.09],[44.2,-0.05],[56.6,0.14],[93.5,-0.07]],
/*HIN*/[[8,-0.07],[32.7,-0.15],[45.1,-0.12],[57.3,0.09],[82.1,-0.07],[94.2,-0.15],[106.5,-0.05],[118.5,-0.07]],
/*PTB*/[[8.5,-0.04],[21,0.24],[33.2,-0.15],[45.6,-0.08],[82.6,-0.07],[94.7,-0.11]],
/*NPO*/[[20.6,0.09],[33.2,-0.05],[45.3,-0.05],[57.8,0.16],[82.5,-0.04],[94.7,-0.12],[118.5,-0.08]],
/*MUM*/[[20,0.08],[32.2,-0.07],[57,0.16]],
/*MHA*/[[20,0.04],[32.2,-0.08],[56.7,0.12],[81.6,0.04],[106.1,0.04],[118.5,0.08]],
/*FIS*/[[95.1,-0.08]],
/*BAR*/[],
/*HOL*/[[11.7,-0.07],[36.6,-0.04],[61.1,-0.08],[73.5,0.07]],
/*LLA*/[[12,-0.14],[24.3,-0.08],[36.6,-0.08],[61.3,-0.08],[73.6,0.04],[98.5,-0.04]],
/*LIV*/[[12.4,-0.12],[24.8,-0.08],[36.9,-0.08],[49.3,-0.04],[61.5,-0.09],[74,0.09]],
/*HEY*/[[12.5,-0.04],[24.8,0.11],[49.6,0.04],[61.8,-0.09],[74.3,0.14],[86.5,0.11],[111.3,0.11]],
/*WOR*/[[0.25,-0.08],[12.8,-0.14],[24.9,-0.08],[37.4,-0.08],[62,-0.18],[74.4,0.04],[86.8,0.04],[99,-0.04],[111.4,0.04]],
/*IOM*/[[12.5,-0.08],[24.6,-0.08],[37.4,-0.05],[61.9,-0.12],[99,-0.04]],
/*ISL*/[],
/*POR*/[[24.9,-0.08],[49.8,0.05],[62.1,-0.07],[74.5,0.04],[87.3,-0.03],[99.3,-0.03],[112,0.05]],
/*MIL*/[[1.1,-0.03],[13.8,-0.03],[26,-0.09],[38.3,-0.07],[50.5,0.04],[63,-0.22],[87.8,-0.05],[112.4,0.07]],
/*BAN*/[[24.4,-0.04],[49.3,0.05],[111.5,0.08]],
/*PRU*/[],
/*STO*/[[8.2,-0.09],[20.3,-0.16],[33,-0.11],[45,-0.05],[57.3,-0.03],[94.7,-0.07]],
/*TOB*/[[7.2,-0.15],[19.5,-0.18],[32,-0.16],[44.2,-0.07],[68.7,-0.11],[81.1,-0.04],[93.2,-0.04],[105.5,0.08]],
/*ULL*/[],
/*KIN*/[[8.3,-0.16],[20.7,-0.2],[33.2,-0.16],[45.3,-0.11],[58.1,-0.03],[70.2,-0.07],[82.4,-0.11],[95.4,-0.07]],
/*LER*/[[12.3,0.07],[37.3,-0.07],[49,-0.08],[111.8,0.11]],
/*WIC*/[[24.8,-0.05],[37.3,-0.05],[49.6,-0.04],[86.9,-0.04],[111.5,0.05]],
/*ABE*/[[2.1,0.18],[14.7,0.04],[39.5,-0.04],[64.3,0.07],[76.3,0.08],[100.9,0.04],[113.5,0.07]],
/*LEI*/[[3.4,0.27],[15.9,0.08],[28.2,0.07],[40.7,0.04],[52.9,0.07],[65.4,0.11],[77.6,0.08],[102.4,0.04],[114.8,0.11]],
/*NSH*/[[4.3,0.18],[16.8,0.07],[66.4,0.08],[78.4,0.07]],
/*WHI*/[[4.8,0.12],[42.1,-0.08],[54.3,-0.04],[66.8,0.04],[79.1,0.04],[91.6,-0.04]],
/*IMM*/[],
/*CRO*/[],
/*LOW*/[[10.2,0.35],[23.4,0.09],[35.4,0.15],[72.8,0.18],[84.6,0.27],[97.5,0.08],[109.3,0.18]],
/*HAR*/[[0.5,0.41],[12.9,0.3],[25.3,0.16],[37.6,0.09],[50,0.09],[62.3,0.22],[74.9,0.22],[87.3,0.15],[99.4,0.15],[111.7,0.14]],
/*SHE*/[[1.1,0.39],[13.8,0.37],[26.3,0.12],[38.4,0.12],[51,0.04],[63.2,0.19],[75.8,0.2]]
];

// ---------------- STYLE ----------------
const PAL = {blue:"#0072BD", orange:"#D95319", yellow:"#EDB120", purple:"#7E2F8E", green:"#77AC30", lblue:"#4DBEEE", dred:"#A2142F"};
const leftCycle = ["orange","dred","green","yellow","blue","lblue","purple"];
const rightCycle = ["blue","orange","yellow","purple","green","lblue","dred"];
const leftColor = (i, lvl) => lvl === 1 ? PAL.blue : PAL[leftCycle[i % 7]];
const rightColor = (lvl) => PAL[rightCycle[(lvl - 1) % 7]];

const svg = d3.select("#c");
const t0 = Date.UTC(2023, 7, 3);
const HR = 3600e3;
const tStart = new Date(t0), tEnd = new Date(t0 + 120 * HR);

const panels = [
  {x0: 50.7, x1: 372, yTop: 36.7, yZero: 1163.3, titleY: 28.5, labelTop: 1210},
  {x0: 469, x1: 785.7, yTop: 42.7, yZero: 1151.7, titleY: 34.5, labelTop: 1192}
];
panels.forEach(p => {
  p.x = d3.scaleUtc().domain([tStart, tEnd]).range([p.x0, p.x1]);
  p.y = d3.scaleLinear().domain([0, 45]).range([p.yZero, p.yTop]);
});

function drawFrame(p, g) {
  const minor = d3.utcHour.every(6).range(tStart, new Date(+tEnd + 1)).filter(d => d.getUTCHours() !== 0);
  g.append("g").selectAll("line").data(minor).join("line")
    .attr("x1", d => p.x(d)).attr("x2", d => p.x(d))
    .attr("y1", p.y(45)).attr("y2", p.y(-1))
    .attr("stroke", "#bdbdbd").attr("stroke-width", 1).attr("stroke-dasharray", "6,6");
  const days = d3.utcDay.range(new Date(t0 + HR), tEnd);
  g.append("g").selectAll("line").data(days).join("line")
    .attr("x1", d => p.x(d)).attr("x2", d => p.x(d))
    .attr("y1", p.y(45)).attr("y2", p.y(-1))
    .attr("stroke", "#aaaaaa").attr("stroke-width", 1.3);
}

function drawOverlay(p, g) {
  const dayStarts = d3.utcDay.range(tStart, tEnd);
  dayStarts.forEach((d, i) => {
    const xa = p.x(d), xb = p.x(new Date(+d + 24 * HR));
    g.append("rect").attr("x", xa).attr("width", xb - xa)
      .attr("y", p.y(45)).attr("height", p.y(44) - p.y(45)).attr("fill", dayBandColors[i]);
    g.append("rect").attr("x", xa).attr("width", xb - xa)
      .attr("y", p.y(0)).attr("height", p.y(-1) - p.y(0)).attr("fill", dayBandColors[i]);
  });
  [p.x0, p.x1].forEach(xx => g.append("line").attr("x1", xx).attr("x2", xx)
    .attr("y1", p.y(45)).attr("y2", p.y(-1)).attr("stroke", "#808080").attr("stroke-width", 1.2));
  yTickValues.forEach(v => {
    g.append("line").attr("x1", p.x0).attr("x2", p.x0 + 10).attr("y1", p.y(v)).attr("y2", p.y(v))
      .attr("stroke", "#404040").attr("stroke-width", 1.2);
    g.append("line").attr("x1", p.x1 - 10).attr("x2", p.x1).attr("y1", p.y(v)).attr("y2", p.y(v))
      .attr("stroke", "#404040").attr("stroke-width", 1.2);
    g.append("text").attr("x", p.x0 - 10).attr("y", p.y(v)).attr("dy", "0.36em")
      .attr("text-anchor", "end").attr("font-size", 23).attr("fill", "#262626").text(v);
  });
  const ticks = d3.utcDay.range(new Date(t0 + HR), new Date(+tEnd + HR));
  ticks.forEach((d, i) => {
    const tx = p.x(d) + 9, ty = p.labelTop + 11;
    g.append("text").attr("transform", `translate(${tx},${ty}) rotate(-30)`)
      .attr("text-anchor", "end").attr("font-size", 22).attr("fill", "#262626").text(dayTickLabels[i]);
  });
  g.append("text").attr("x", (p.x0 + p.x1) / 2).attr("y", p.titleY).attr("text-anchor", "middle")
    .attr("font-size", 25).attr("font-weight", "bold").attr("fill", "#000").text(eventName);
}

// ---------- LEFT PANEL ----------
const pL = panels[0];
const gL = svg.append("g");
drawFrame(pL, gL);
const tx = k => pL.x(new Date(t0 + sampleHours[k] * HR));
stations.forEach((s, i) => {
  const lvl = stationLevels[i];
  const obs = obsLines[i];
  const g = gL.append("g");
  if (obs) {
    const pos = d3.area().defined(v => v != null).x((v, k) => tx(k))
      .y0(pL.y(lvl)).y1(v => pL.y(lvl + Math.max(v, 0)));
    const neg = d3.area().defined(v => v != null).x((v, k) => tx(k))
      .y0(pL.y(lvl)).y1(v => pL.y(lvl + Math.min(v, 0)));
    g.append("path").attr("d", pos(obs)).attr("fill", "#ff8080");
    g.append("path").attr("d", neg(obs)).attr("fill", "#8080ff");
    const ol = d3.line().defined(v => v != null).x((v, k) => tx(k)).y(v => pL.y(lvl + v));
    g.append("path").attr("d", ol(obs)).attr("fill", "none").attr("stroke", leftColor(i, lvl)).attr("stroke-width", 1.3);
  }
  const ml = d3.line().x((v, k) => tx(k)).y(v => pL.y(lvl + v));
  g.append("path").attr("d", ml(modelLines[i])).attr("fill", "none").attr("stroke", "#000")
    .attr("stroke-width", 4.5).attr("stroke-linejoin", "round");
});
drawOverlay(pL, gL);
svg.append("defs").append("clipPath").attr("id", "lclip").append("rect")
  .attr("x", 372).attr("y", 0).attr("width", 42).attr("height", 1264);
const labL = svg.append("g").attr("clip-path", "url(#lclip)");
stations.forEach((s, i) => {
  const lvl = stationLevels[i];
  labL.append("text").attr("x", pL.x1 + 1).attr("y", pL.y(lvl)).attr("dy", "0.36em")
    .attr("font-size", 22).attr("fill", leftColor(i, lvl)).text(s);
});

// ---------- RIGHT PANEL ----------
const pR = panels[1];
const gR = svg.append("g");
drawFrame(pR, gR);
const hx = h => pR.x(new Date(t0 + h * HR));
const barW = hx(4.2) - hx(0);
stations.forEach((s, i) => {
  const lvl = stationLevels[i];
  const col = rightColor(lvl);
  gR.append("line").attr("x1", pR.x0).attr("x2", pR.x1).attr("y1", pR.y(lvl)).attr("y2", pR.y(lvl))
    .attr("stroke", col).attr("stroke-width", 1.5).attr("stroke-opacity", 0.8);
  gR.append("g").selectAll("rect").data(highWaterErrors[i]).join("rect")
    .attr("x", d => hx(d[0]) - barW / 2).attr("width", barW)
    .attr("y", d => pR.y(lvl + Math.max(d[1], 0)))
    .attr("height", d => Math.abs(pR.y(lvl) - pR.y(lvl + d[1])))
    .attr("fill", col);
  gR.append("text").attr("x", pR.x1 + 1).attr("y", pR.y(lvl)).attr("dy", "0.36em")
    .attr("font-size", 22).attr("fill", col).text(s);
});
drawOverlay(pR, gR);
</script>
</body></html>
